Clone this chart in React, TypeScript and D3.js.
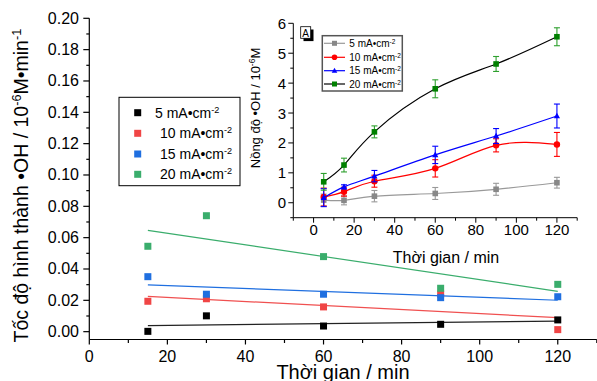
import React from 'react';
import * as d3 from 'd3';

// main plot: rate of •OH formation vs time
const mainTimes = [15, 30, 60, 90, 120];
const rate5 = [0.0002, 0.0101, 0.0036, 0.0047, 0.0075];
const rate10 = [0.0194, 0.021, 0.0158, 0.024, 0.0013];
const rate15 = [0.0351, 0.0239, 0.0239, 0.0217, 0.0223];
const rate20 = [0.0545, 0.074, 0.0479, 0.0277, 0.0302];
const currents = ['5', '10', '15', '20'];

// inset: •OH concentration vs time
const insetTimes = [5, 15, 30, 60, 90, 120];
const conc5 = [0.09, 0.08, 0.22, 0.31, 0.45, 0.67];
const err5 = [0.2, 0.15, 0.19, 0.2, 0.2, 0.18];
const conc10 = [0.19, 0.37, 0.72, 1.15, 1.92, 1.95];
const err10 = [0.3, 0.15, 0.2, 0.29, 0.22, 0.4];
const conc15 = [0.17, 0.53, 0.89, 1.6, 2.23, 2.9];
const err15 = [0.3, 0.07, 0.19, 0.29, 0.25, 0.4];
const conc20 = [0.7, 1.26, 2.37, 3.81, 4.64, 5.55];
const err20 = [0.28, 0.23, 0.2, 0.3, 0.25, 0.3];

const mainYTicks = d3.range(0, 0.2001, 0.02);
const mainXTicks = [0, 20, 40, 60, 80, 100, 120];
const insetYTicks = [0, 1, 2, 3, 4, 5, 6];
const insetXTicks = [0, 20, 40, 60, 80, 100, 120];

const FONT = "Arial, 'Liberation Sans', sans-serif";

function fit(xs: number[], ys: number[]) {
  const mx = d3.mean(xs)!;
  const my = d3.mean(ys)!;
  let sxy = 0, sxx = 0;
  xs.forEach((x, i) => { sxy += (x - mx) * (ys[i] - my); sxx += (x - mx) ** 2; });
  const b = sxy / sxx;
  return (x: number) => my + b * (x - mx);
}

const Sup = ({ t, size }: { t: string; size: number }) => (
  <tspan baselineShift="super" fontSize={size * 0.65}>{t}</tspan>
);

export default function App() {
  const x = d3.scaleLinear().domain([0, 130]).range([89.3, 596.8]);
  const y = d3.scaleLinear().domain([-0.005, 0.2]).range([339.5, 18.3]);

  const ix = d3.scaleLinear().domain([-10, 130]).range([293.3, 577.2]);
  const iy = d3.scaleLinear().domain([-0.5, 6]).range([217.7, 23.3]);

  const mainSeries = [
    { vals: rate5, color: '#000000', line: '#222222' },
    { vals: rate10, color: '#f04545', line: '#f05050' },
    { vals: rate15, color: '#1f6fe0', line: '#1f6fe0' },
    { vals: rate20, color: '#3aad6c', line: '#3aad6c' },
  ];

  const insetSeries = [
    { vals: conc5, err: err5, line: '#999999', mark: '#888888', ebar: '#999999', shape: 'square' },
    { vals: conc10, err: err10, line: '#ff0000', mark: '#ff0000', ebar: '#ff0000', shape: 'circle' },
    { vals: conc15, err: err15, line: '#0000ff', mark: '#0000ff', ebar: '#0000ff', shape: 'triangle' },
    { vals: conc20, err: err20, line: '#000000', mark: '#008000', ebar: '#2ea02e', shape: 'square' },
  ];

  const marker = (shape: string, cx: number, cy: number, color: string, s = 3) => {
    if (shape === 'circle') return <circle cx={cx} cy={cy} r={s} fill={color} />;
    if (shape === 'triangle')
      return <path d={`M${cx},${cy - s - 0.5}L${cx + s + 0.3},${cy + s - 0.5}L${cx - s - 0.3},${cy + s - 0.5}Z`} fill={color} />;
    return <rect x={cx - s} y={cy - s} width={s * 2} height={s * 2} fill={color} />;
  };

  const line = d3.line<number>()
    .x((_, i) => ix(insetTimes[i]))
    .y((d) => iy(d))
    .curve(d3.curveNatural);

  const mainMinorY = d3.range(0.01, 0.2, 0.02);
  const mainMinorX = [10, 30, 50, 70, 90, 110, 130];
  const insetMinorY = [-0.5, 0.5, 1.5, 2.5, 3.5, 4.5, 5.5];
  const insetMinorX = [-10, 10, 30, 50, 70, 90, 110, 130];

  return (
    <svg width={597} height={381} style={{ position: 'absolute', left: 0, top: 0, background: '#fff' }}
      fontFamily={FONT}>
      {/* main axes */}
      <g stroke="#000" strokeWidth={1.2}>
        <line x1={x(0)} x2={x(0)} y1={y(0.2)} y2={y(-0.005)} />
        <line x1={x(0)} x2={x(130)} y1={y(-0.005)} y2={y(-0.005)} />
        {mainYTicks.map((t) => <line key={'my' + t} x1={x(0) - 6} x2={x(0)} y1={y(t)} y2={y(t)} />)}
        {mainMinorY.map((t) => <line key={'mmy' + t} x1={x(0) - 3} x2={x(0)} y1={y(t)} y2={y(t)} />)}
        {mainXTicks.map((t) => <line key={'mx' + t} x1={x(t)} x2={x(t)} y1={y(-0.005)} y2={y(-0.005) + 5} />)}
        {mainMinorX.map((t) => <line key={'mmx' + t} x1={x(t)} x2={x(t)} y1={y(-0.005)} y2={y(-0.005) + 3.5} />)}
      </g>
      <g fontSize={16} fill="#000">
        {mainYTicks.map((t) => (
          <text key={'myl' + t} x={79} y={y(t) + 5.5} textAnchor="end">{t.toFixed(2)}</text>
        ))}
        {mainXTicks.map((t) => (
          <text key={'mxl' + t} x={x(t)} y={361.5} textAnchor="middle">{t}</text>
        ))}
      </g>
      <text x={343} y={379} fontSize={20} textAnchor="middle">Thời gian / min</text>
      <text transform="translate(28,185.6) rotate(-90)" fontSize={19.5} textAnchor="middle">
        Tốc độ hình thành •OH / 10<Sup t="-6" size={19.5} />M•min<Sup t="-1" size={19.5} />
      </text>

      {/* fit lines and points */}
      {mainSeries.map((s, k) => {
        const f = fit(mainTimes, s.vals);
        return (
          <line key={'fit' + k} x1={x(15)} x2={x(120)} y1={y(f(15))} y2={y(f(120))}
            stroke={s.line} strokeWidth={1.2} />
        );
      })}
      {mainSeries.map((s, k) =>
        s.vals.map((v, i) => (
          <rect key={'p' + k + '-' + i} x={x(mainTimes[i]) - 3.5} y={y(v) - 3.5} width={7} height={7} fill={s.color} />
        ))
      )}

      {/* main legend */}
      <rect x={119} y={97.3} width={121} height={88.4} fill="#fff" stroke="#000" strokeWidth={1} />
      {mainSeries.map((s, k) => {
        const ry = [112.7, 133.3, 154, 174.3][k];
        return (
          <g key={'lg' + k}>
            <rect x={134.2} y={ry - 3.5} width={7} height={7} fill={s.color} />
            <text x={k === 0 ? 155 : 160} y={ry + 5} fontSize={14}>
              {currents[k]} mA•cm<Sup t="-2" size={14} />
            </text>
          </g>
        );
      })}

      {/* inset axes */}
      <g stroke="#000" strokeWidth={1}>
        <line x1={ix(-10)} x2={ix(-10)} y1={iy(6)} y2={iy(-0.5)} />
        <line x1={ix(-10)} x2={ix(130)} y1={iy(-0.5)} y2={iy(-0.5)} />
        {insetYTicks.map((t) => <line key={'iy' + t} x1={ix(-10) - 5} x2={ix(-10)} y1={iy(t)} y2={iy(t)} />)}
        {insetMinorY.map((t) => <line key={'imy' + t} x1={ix(-10) - 3} x2={ix(-10)} y1={iy(t)} y2={iy(t)} />)}
        {insetXTicks.map((t) => <line key={'ix' + t} x1={ix(t)} x2={ix(t)} y1={iy(-0.5)} y2={iy(-0.5) + 5} />)}
        {insetMinorX.map((t) => <line key={'imx' + t} x1={ix(t)} x2={ix(t)} y1={iy(-0.5)} y2={iy(-0.5) + 3} />)}
      </g>
      <g fontSize={15} fill="#000">
        {insetYTicks.map((t) => (
          <text key={'iyl' + t} x={286} y={iy(t) + 5.5} textAnchor="end">{t}</text>
        ))}
        {insetXTicks.map((t) => (
          <text key={'ixl' + t} x={ix(t)} y={235} textAnchor="middle">{t}</text>
        ))}
      </g>
      <text x={446} y={263} fontSize={16} textAnchor="middle">Thời gian / min</text>
      <text transform="translate(260,108) rotate(-90)" fontSize={13} textAnchor="middle">
        Nồng độ •OH / 10<Sup t="-6" size={13} />M
      </text>

      {/* inset series */}
      {insetSeries.map((s, k) => (
        <g key={'is' + k}>
          <path d={line(s.vals) || ''} fill="none" stroke={s.line} strokeWidth={1.2} />
          {s.vals.map((v, i) => {
            const cx = ix(insetTimes[i]);
            return (
              <g key={i} stroke={s.ebar} strokeWidth={1.1}>
                <line x1={cx} x2={cx} y1={iy(v - s.err[i])} y2={iy(v + s.err[i])} />
                <line x1={cx - 3} x2={cx + 3} y1={iy(v - s.err[i])} y2={iy(v - s.err[i])} />
                <line x1={cx - 3} x2={cx + 3} y1={iy(v + s.err[i])} y2={iy(v + s.err[i])} />
              </g>
            );
          })}
          {s.vals.map((v, i) => (
            <g key={'m' + i}>{marker(s.shape, ix(insetTimes[i]), iy(v), s.mark, s.shape === 'circle' ? 3.2 : 2.8)}</g>
          ))}
        </g>
      ))}

      {/* "A" label */}
      <rect x={303.5} y={29.5} width={10} height={11.6} fill="#000" />
      <rect x={300.7} y={26.7} width={10} height={11.6} fill="#fff" stroke="#000" strokeWidth={0.8} />
      <text x={305.7} y={36.5} fontSize={10} textAnchor="middle">A</text>

      {/* inset legend */}
      <rect x={322.3} y={35.7} width={80} height={55.3} fill="#fff" stroke="#555" strokeWidth={1.5} />
      {insetSeries.map((s, k) => {
        const ry = [43.3, 57.3, 70.7, 84][k];
        return (
          <g key={'il' + k}>
            <line x1={324} x2={345} y1={ry} y2={ry} stroke={s.line} strokeWidth={1.2} />
            {marker(s.shape, 334.5, ry, s.mark, s.shape === 'circle' ? 2.8 : 2.5)}
            <text x={349.3} y={ry + 3.6} fontSize={10}>
              {currents[k]} mA•cm<Sup t="-2" size={10} />
            </text>
          </g>
        );
      })}
    </svg>
  );
}
